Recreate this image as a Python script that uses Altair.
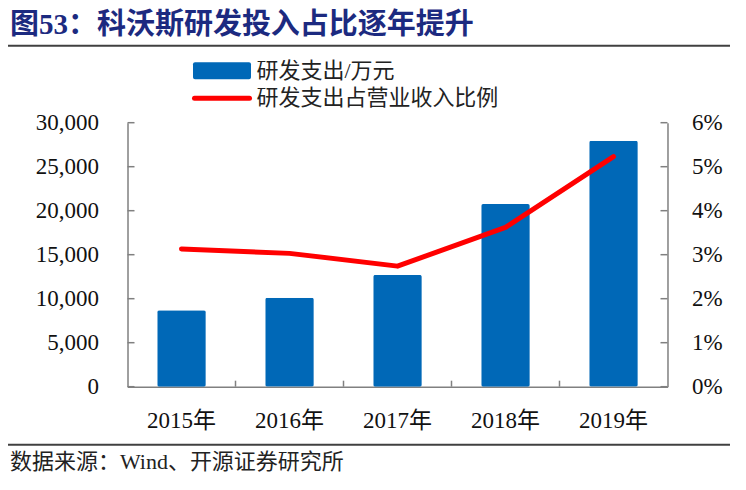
import altair as alt
import pandas as pd

# ---- data ----
years = ["2015年", "2016年", "2017年", "2018年", "2019年"]
rd_spend = [8700, 10100, 12700, 20760, 27950]          # 研发支出/万元
rd_ratio = [0.0313, 0.0303, 0.0274, 0.0362, 0.0523]    # 研发支出占营业收入比例
left_ticks = [0, 5000, 10000, 15000, 20000, 25000, 30000]
right_ticks = [0, 0.01, 0.02, 0.03, 0.04, 0.05, 0.06]
band_bounds = [1, 2, 3, 4]

title_text = "图53：科沃斯研发投入占比逐年提升"
legend_bar = "研发支出/万元"
legend_line = "研发支出占营业收入比例"
source_text = "数据来源：Wind、开源证券研究所"

W, H = 540, 264
FONT = "Liberation Serif, Noto Sans CJK SC"
BLUE = "#0068B7"
RED = "#FF0000"
GREY = "#808080"

df = pd.DataFrame({"year": years, "rd": rd_spend, "ratio": rd_ratio})
xband = alt.Scale(paddingInner=0.55, paddingOuter=0.275)

bars = alt.Chart(df).mark_bar(color=BLUE, cornerRadius=2).encode(
    x=alt.X("year:N", sort=years, scale=xband,
            axis=alt.Axis(title=None, labelAngle=0, ticks=False, labelPadding=23,
                          labelFont=FONT, labelFontSize=23, labelColor="#111",
                          domainColor=GREY, domainWidth=1.5)),
    y=alt.Y("rd:Q", scale=alt.Scale(domain=[0, 30000], nice=False),
            axis=alt.Axis(title=None, values=left_ticks, format=",.0f", ticks=False,
                          grid=False, labelPadding=29, labelFont=FONT, labelFontSize=23,
                          labelColor="#111", domainColor=GREY, domainWidth=1.5)),
)

line = alt.Chart(df).mark_line(color=RED, strokeWidth=5, strokeCap="round",
                               strokeJoin="round").encode(
    x=alt.X("year:N", sort=years, scale=xband, axis=None, bandPosition=0.5),
    y=alt.Y("ratio:Q", scale=alt.Scale(domain=[0, 0.06], nice=False),
            axis=alt.Axis(title=None, orient="right", values=right_ticks, format=".0%",
                          ticks=False, grid=False, labelPadding=24, labelFont=FONT,
                          labelFontSize=23, labelColor="#111", domainColor=GREY,
                          domainWidth=1.5)),
)

lt = alt.Chart(pd.DataFrame({"v": left_ticks})).mark_rule(color=GREY, strokeWidth=1.5).encode(
    x=alt.value(0), x2=alt.value(7),
    y=alt.Y("v:Q", scale=alt.Scale(domain=[0, 30000], nice=False), axis=None),
)
rt = alt.Chart(pd.DataFrame({"v": right_ticks})).mark_rule(color=GREY, strokeWidth=1.5).encode(
    x=alt.value(W - 7), x2=alt.value(W),
    y=alt.Y("v:Q", scale=alt.Scale(domain=[0, 0.06], nice=False), axis=None),
)
bt = alt.Chart(pd.DataFrame({"b": band_bounds})).mark_rule(color=GREY, strokeWidth=1.5).encode(
    x=alt.X("b:Q", scale=alt.Scale(domain=[0, 5], nice=False), axis=None),
    y=alt.value(H - 6), y2=alt.value(H),
)

def txt(s, x, y, size, color, weight="normal", baseline="middle"):
    return alt.Chart(pd.DataFrame({"t": [s]})).mark_text(
        align="left", baseline=baseline, font=FONT, fontSize=size,
        fontWeight=weight, color=color,
    ).encode(x=alt.value(x), y=alt.value(y), text="t:N")

def hline(x1, x2, y, color, width):
    return alt.Chart(pd.DataFrame({"k": [0]})).mark_rule(color=color, strokeWidth=width).encode(
        x=alt.value(x1), x2=alt.value(x2), y=alt.value(y))

title = txt(title_text, -117.5, -98, 29, "#1C2A80", weight="bold")
top_rule = hline(-119.5, 602.5, -77, "#404040", 2)
bottom_rule = hline(-119.5, 602.5, 322, "#404040", 2)
source = txt(source_text, -117.5, 339, 22, "#222")

leg_rect = alt.Chart(pd.DataFrame({"k": [0]})).mark_rect(color=BLUE, cornerRadius=2).encode(
    x=alt.value(65.5), x2=alt.value(123.5), y=alt.value(-60.5), y2=alt.value(-43.5))
leg_line = alt.Chart(pd.DataFrame({"k": [0]})).mark_rule(
    color=RED, strokeWidth=5, strokeCap="round").encode(
    x=alt.value(67), x2=alt.value(122), y=alt.value(-24.5))
leg_t1 = txt(legend_bar, 129, -52, 22, "#222")
leg_t2 = txt(legend_line, 129, -24.5, 22, "#222")

chart = alt.layer(
    bars, line, lt, rt, bt,
    title, top_rule, bottom_rule, source, leg_rect, leg_line, leg_t1, leg_t2,
).resolve_scale(y="independent", x="independent").properties(
    width=W, height=H,
    padding={"left": 119.5, "top": 114.7, "right": 70.5, "bottom": 91},
    autosize=alt.AutoSizeParams(type="none"),
).configure_view(stroke=None)

chart.save("out.html", embed_options={"renderer": "svg", "actions": False})
